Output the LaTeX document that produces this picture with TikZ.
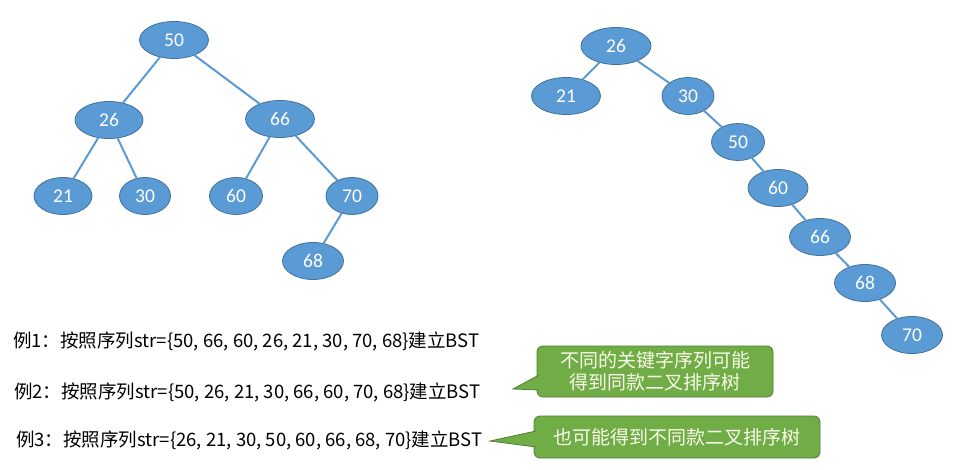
\documentclass[tikz,border=0pt]{standalone}
\usepackage{fontspec}
\setmainfont{Carlito}
\newfontfamily\cjk{Noto Sans CJK SC}
\usetikzlibrary{shapes.geometric}

\definecolor{nodefill}{RGB}{91,155,213}
\definecolor{nodeline}{RGB}{65,113,156}
\definecolor{notefill}{RGB}{112,173,71}
\definecolor{noteline}{RGB}{80,126,50}
\definecolor{notetext}{RGB}{250,250,232}

\tikzset{
    bst/.style = { ellipse, draw = nodeline, line width = 0.8pt, fill = nodefill, text = white,
        minimum height = 37pt, inner sep = 0pt, font = \fontsize{19.5}{22}\selectfont },
    branch/.style = { draw = nodefill, line width = 2pt },
    note/.style = { rounded corners = 6pt, draw = noteline, line width = 0.8pt, fill = notefill,
        text = notetext, align = center, inner sep = 0pt, font = \fontsize{19}{22}\selectfont\cjk },
    example/.style = { anchor = west, inner sep = 0pt, font = \fontsize{18.5}{22}\selectfont }
}

\begin{document}
\begin{tikzpicture}[x=1pt, y=-1pt]
        \useasboundingbox ( 0, 0 ) rectangle ( 976, 470 );

        % 左树
        \node [ bst, minimum width = 69pt ] (a50) at ( 174, 40 ) {50};
        \node [ bst, minimum width = 68pt ] (a26) at ( 109, 120 ) {26};
        \node [ bst, minimum width = 69pt ] (a66) at ( 280, 119 ) {66};
        \node [ bst, minimum width = 58pt ] (a21) at ( 63, 196 ) {21};
        \node [ bst, minimum width = 51pt ] (a30) at ( 145, 196 ) {30};
        \node [ bst, minimum width = 53pt ] (a60) at ( 236, 196 ) {60};
        \node [ bst, minimum width = 52pt ] (a70) at ( 352, 196 ) {70};
        \node [ bst, minimum width = 61pt ] (a68) at ( 313, 261 ) {68};

        \draw [ branch ] (a50) -- (a26);
        \draw [ branch ] (a50) -- (a66);
        \draw [ branch ] (a26) -- (a21);
        \draw [ branch ] (a26) -- (a30);
        \draw [ branch ] (a66) -- (a60);
        \draw [ branch ] (a66) -- (a70);
        \draw [ branch ] (a70) -- (a68);

        % 右树
        \node [ bst, minimum width = 70pt ] (b26) at ( 616, 46 ) {26};
        \node [ bst, minimum width = 69pt ] (b21) at ( 566, 96 ) {21};
        \node [ bst, minimum width = 52pt ] (b30) at ( 688, 96 ) {30};
        \node [ bst, minimum width = 53pt ] (b50) at ( 738, 142 ) {50};
        \node [ bst, minimum width = 60pt ] (b60) at ( 778, 188 ) {60};
        \node [ bst, minimum width = 61pt ] (b66) at ( 820, 237 ) {66};
        \node [ bst, minimum width = 61pt ] (b68) at ( 865, 283 ) {68};
        \node [ bst, minimum width = 61pt ] (b70) at ( 912, 335 ) {70};

        \draw [ branch ] (b26) -- (b21);
        \draw [ branch ] (b26) -- (b30);
        \draw [ branch ] (b30) -- (b50);
        \draw [ branch ] (b50) -- (b60);
        \draw [ branch ] (b60) -- (b66);
        \draw [ branch ] (b66) -- (b68);
        \draw [ branch ] (b68) -- (b70);

        % 例子
        \node [ example ] (ex1) at ( 13, 341 ) {\cjk{例}1\cjk{：按照序列}str=\{50, 66, 60, 26, 21, 30, 70, 68\}\cjk{建立}BST};
        \node [ example ] (ex2) at ( 14, 392 ) {\cjk{例}2\cjk{：按照序列}str=\{50, 26, 21, 30, 66, 60, 70, 68\}\cjk{建立}BST};
        \node [ example ] (ex3) at ( 16, 440 ) {\cjk{例}3\cjk{：按照序列}str=\{26, 21, 30, 50, 60, 66, 68, 70\}\cjk{建立}BST};

        % 标注 1
        \node [ note, minimum width = 236pt, minimum height = 51pt ] (note1) at ( 655, 371.5 ) {不同的关键字序列可能\\得到同款二叉排序树};
        \coordinate (tip1) at ( 513, 389 );
        \coordinate (up1) at ( 539, 375 );
        \coordinate (low1) at ( 539, 390 );
        \fill [ notefill ] (tip1) -- (up1) -- (low1) -- cycle;
        \draw [ noteline, line width = 0.8pt ] (up1) -- (tip1) -- (low1);

        % 标注 2
        \node [ note, minimum width = 286pt, minimum height = 42pt ] (note2) at ( 677, 437 ) {也可能得到不同款二叉排序树};
        \coordinate (tip2) at ( 490, 441 );
        \coordinate (up2) at ( 536, 431 );
        \coordinate (low2) at ( 536, 447 );
        \fill [ notefill ] (tip2) -- (up2) -- (low2) -- cycle;
        \draw [ noteline, line width = 0.8pt ] (up2) -- (tip2) -- (low2);
    \end{tikzpicture}
\end{document}
